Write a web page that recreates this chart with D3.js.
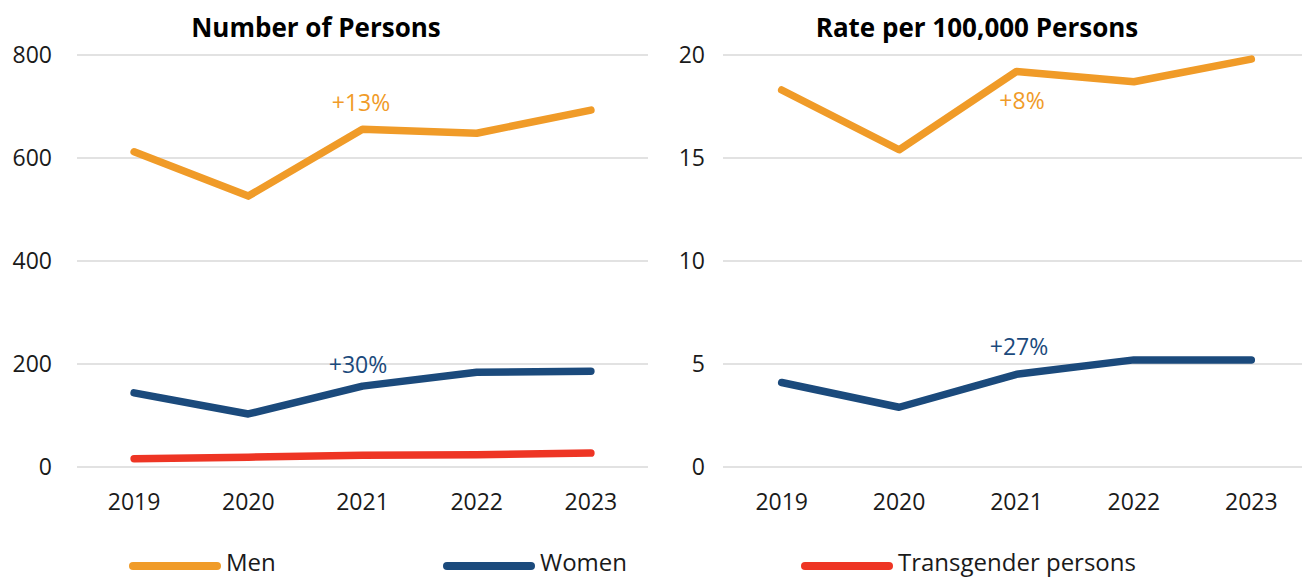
<!DOCTYPE html>
<html><head><meta charset="utf-8">
<script src="https://cdn.jsdelivr.net/npm/d3@7/dist/d3.min.js"></script>
<style>body{margin:0;background:#fff;overflow:hidden}svg{display:block;font-family:"Open Sans",sans-serif}</style>
</head><body><svg id="c" width="1302" height="577"></svg>
<script>
const years = ["2019","2020","2021","2022","2023"];
const countMen = [612, 526, 656, 648, 693];
const countWomen = [144, 103, 157, 184, 186];
const countTrans = [16, 19, 23, 24, 27];
const rateMen = [18.3, 15.4, 19.2, 18.7, 19.8];
const rateWomen = [4.1, 2.9, 4.5, 5.2, 5.2];
const countTicks = [0, 200, 400, 600, 800];
const rateTicks = [0, 5, 10, 15, 20];
const legendLabels = ["Men", "Women", "Transgender persons"];
const colors = {men:"#F09B28", women:"#1B4A7C", trans:"#EE3524"};

const svg = d3.select("#c");
const plotTop = 55, plotBottom = 467;

function panel(cfg){
  const g = svg.append("g");
  const x = d3.scaleBand().domain(years).range([cfg.x0, cfg.x1]);
  const y = d3.scaleLinear().domain([0, cfg.max]).range([plotBottom, plotTop]);
  g.selectAll("line.grid").data(cfg.ticks).join("line")
    .attr("x1", cfg.x0).attr("x2", cfg.x1)
    .attr("y1", d=>y(d)).attr("y2", d=>y(d))
    .attr("stroke","#d9d9d9").attr("stroke-width",1.5);
  g.selectAll("text.yt").data(cfg.ticks).join("text")
    .attr("x", cfg.labelX).attr("y", d=>y(d)).attr("dy","0.35em")
    .attr("text-anchor","end").attr("font-size",23).attr("fill","#1a1a1a").text(d=>d);
  g.selectAll("text.xt").data(years).join("text")
    .attr("x", d=>x(d)+x.bandwidth()/2).attr("y", 510)
    .attr("text-anchor","middle").attr("font-size",23).attr("fill","#1a1a1a").text(d=>d);
  g.append("text").attr("x", cfg.tx).attr("y", 37).attr("text-anchor","middle")
    .attr("font-size",26).attr("font-weight","bold").attr("fill","#000").text(cfg.title);
  const line = d3.line().x((d,i)=>x(years[i])+x.bandwidth()/2).y(d=>y(d));
  cfg.series.forEach(s=>{
    g.append("path").datum(s.values).attr("d", line).attr("fill","none")
      .attr("stroke", s.color).attr("stroke-width",7.5).attr("stroke-linecap","round").attr("stroke-linejoin","round");
  });
  cfg.notes.forEach(n=>{
    g.append("text").attr("x", n.x).attr("y", n.y).attr("text-anchor","middle")
      .attr("font-size",23).attr("fill", n.color).text(n.t);
  });
}

panel({x0:77, x1:648, labelX:52, max:800, ticks:countTicks, title:"Number of Persons", tx:316,
  series:[{values:countMen,color:colors.men},{values:countWomen,color:colors.women},{values:countTrans,color:colors.trans}],
  notes:[{x:361,y:111,t:"+13%",color:colors.men},{x:358,y:373,t:"+30%",color:colors.women}]});
panel({x0:723, x1:1310, labelX:705, max:20, ticks:rateTicks, title:"Rate per 100,000 Persons", tx:977,
  series:[{values:rateMen,color:colors.men},{values:rateWomen,color:colors.women}],
  notes:[{x:1022,y:109,t:"+8%",color:colors.men},{x:1019,y:355,t:"+27%",color:colors.women}]});

const leg = [{x:133,c:colors.men},{x:447,c:colors.women},{x:805,c:colors.trans}];
leg.forEach((l,i)=>{
  svg.append("line").attr("x1",l.x).attr("x2",l.x+84).attr("y1",566).attr("y2",566)
    .attr("stroke",l.c).attr("stroke-width",8).attr("stroke-linecap","round");
  svg.append("text").attr("x",l.x+93).attr("y",571).attr("font-size",24).attr("fill","#1a1a1a").text(legendLabels[i]);
});
</script></body></html>
